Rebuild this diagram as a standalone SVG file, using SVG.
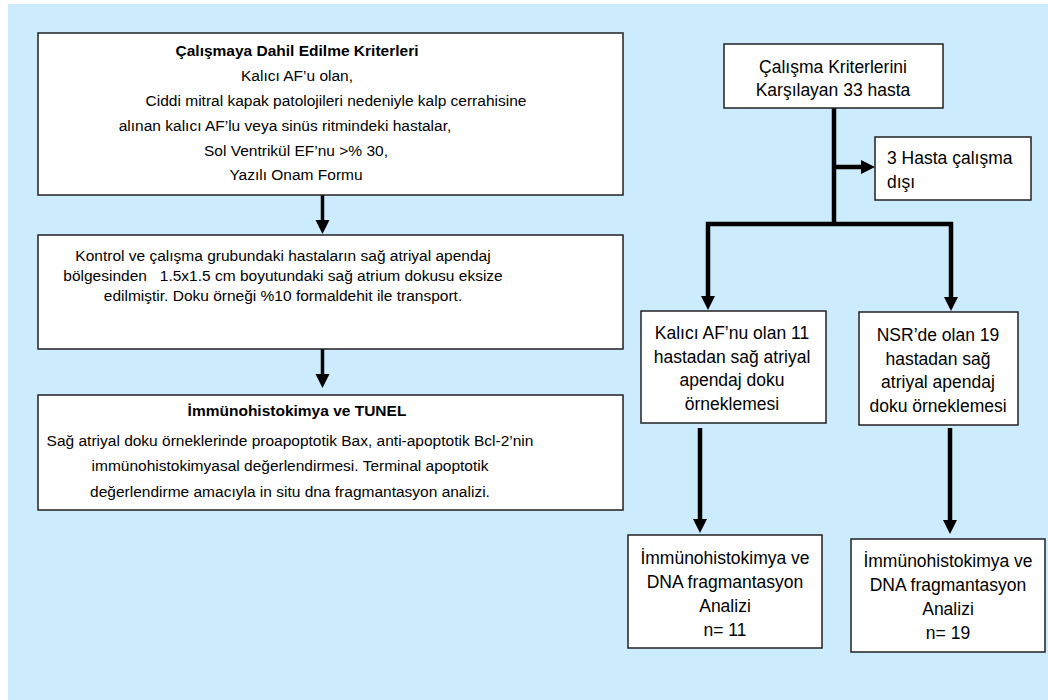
<svg xmlns="http://www.w3.org/2000/svg" width="1048" height="700" viewBox="0 0 1048 700">
<style>
.box{fill:#fff;stroke:#222;stroke-width:1.5}
.l{font-family:"Liberation Sans",Arial,sans-serif;font-size:15.5px;fill:#000;text-anchor:middle}
.b{font-weight:bold}
.r{font-family:"Liberation Sans",Arial,sans-serif;font-size:17.5px;fill:#000;text-anchor:middle}
.st{text-anchor:start}
.c{fill:none;stroke:#000;stroke-width:4.5;stroke-linejoin:miter}
.cl{fill:none;stroke:#000;stroke-width:3.5}
</style>
<defs>
<marker id="ah" markerUnits="userSpaceOnUse" markerWidth="15" markerHeight="15" refX="4" refY="7" orient="auto">
<path d="M0,0 L14,7 L0,14 z" fill="#000"/>
</marker>
</defs>
<rect x="0" y="0" width="1048" height="700" fill="#fff"/>
<rect x="8" y="4" width="1040" height="696" fill="#CCEBFC"/>

<g id="connectors">
<path class="cl" d="M322.5,195 V224" marker-end="url(#ah)"/>
<path class="cl" d="M322.5,349 V378" marker-end="url(#ah)"/>
<path class="c" d="M834,108 V224"/>
<path class="c" d="M834,167 H865" marker-end="url(#ah)"/>
<path class="c" d="M834,224 H708 V300" marker-end="url(#ah)"/>
<path class="c" d="M834,224 H951 V301" marker-end="url(#ah)"/>
<path class="c" d="M700,428 V523" marker-end="url(#ah)"/>
<path class="c" d="M950,428 V524" marker-end="url(#ah)"/>
</g>

<g id="n1">
<rect class="box" x="38" y="33" width="585" height="162"/>
<text class="l b" x="297" y="55.5">Çalışmaya Dahil Edilme Kriterleri</text>
<text class="l" x="297" y="81">Kalıcı AF’u olan,</text>
<text class="l" x="336" y="106">Ciddi mitral kapak patolojileri nedeniyle kalp cerrahisine</text>
<text class="l" x="285" y="130.5">alınan kalıcı AF’lu veya sinüs ritmindeki hastalar,</text>
<text class="l" x="296" y="155.5">Sol Ventrikül EF’nu &gt;% 30,</text>
<text class="l" x="296" y="179.5">Yazılı Onam Formu</text>
</g>

<g id="n2">
<rect class="box" x="38" y="235" width="585" height="114"/>
<text class="l" x="283" y="260.5">Kontrol ve çalışma grubundaki hastaların sağ atriyal apendaj</text>
<text class="l" x="283" y="280.5" xml:space="preserve">bölgesinden   1.5x1.5 cm boyutundaki sağ atrium dokusu eksize</text>
<text class="l" x="283" y="300.5">edilmiştir. Doku örneği %10 formaldehit ile transport.</text>
</g>

<g id="n3">
<rect class="box" x="38" y="395" width="585" height="115"/>
<text class="l b" x="297" y="415.5">İmmünohistokimya ve TUNEL</text>
<text class="l" x="290" y="445.5">Sağ atriyal doku örneklerinde proapoptotik Bax, anti-apoptotik Bcl-2’nin</text>
<text class="l" x="290" y="471">immünohistokimyasal değerlendirmesi. Terminal apoptotik</text>
<text class="l" x="290" y="497">değerlendirme amacıyla in situ dna fragmantasyon analizi.</text>
</g>

<g id="n4">
<rect class="box" x="724" y="44" width="219" height="64"/>
<text class="r" x="833" y="73">Çalışma Kriterlerini</text>
<text class="r" x="833" y="96">Karşılayan 33 hasta</text>
</g>

<g id="n5">
<rect class="box" x="875" y="137" width="156" height="63"/>
<text class="r st" x="887" y="164">3 Hasta çalışma</text>
<text class="r st" x="887" y="188">dışı</text>
</g>

<g id="n6">
<rect class="box" x="641" y="311" width="185" height="112"/>
<text class="r" x="732" y="339">Kalıcı AF’nu olan 11</text>
<text class="r" x="732" y="363">hastadan sağ atriyal</text>
<text class="r" x="732" y="386">apendaj doku</text>
<text class="r" x="732" y="410">örneklemesi</text>
</g>

<g id="n7">
<rect class="box" x="859" y="312" width="159" height="113"/>
<text class="r" x="938" y="341">NSR’de olan 19</text>
<text class="r" x="938" y="365">hastadan sağ</text>
<text class="r" x="938" y="388">atriyal apendaj</text>
<text class="r" x="938" y="412">doku örneklemesi</text>
</g>

<g id="n8">
<rect class="box" x="628" y="535" width="194" height="113"/>
<text class="r" x="725" y="564">İmmünohistokimya ve</text>
<text class="r" x="725" y="588">DNA fragmantasyon</text>
<text class="r" x="725" y="612">Analizi</text>
<text class="r" x="725" y="636">n= 11</text>
</g>

<g id="n9">
<rect class="box" x="851" y="539" width="194" height="113"/>
<text class="r" x="948" y="567">İmmünohistokimya ve</text>
<text class="r" x="948" y="591">DNA fragmantasyon</text>
<text class="r" x="948" y="615">Analizi</text>
<text class="r" x="948" y="639">n= 19</text>
</g>
</svg>
